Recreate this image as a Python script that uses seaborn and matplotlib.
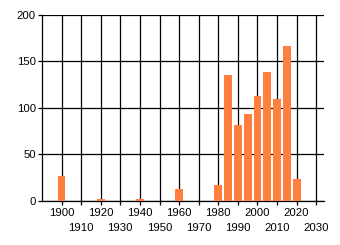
import matplotlib
matplotlib.use("Agg")
import matplotlib.pyplot as plt
import seaborn as sns
import pandas as pd

years = [1900, 1920, 1940, 1960, 1980, 1985, 1990, 1995, 2000, 2005, 2010, 2015, 2020]
counts = [27, 2, 2, 13, 17, 135, 82, 93, 113, 139, 110, 167, 24]
x_ticks_upper = list(range(1900, 2021, 20))
x_ticks_lower = list(range(1910, 2031, 20))
y_ticks = [0, 50, 100, 150, 200]

sns.set_style("white")
plt.rcParams['font.family'] = ['Liberation Sans', 'DejaVu Sans']

df = pd.DataFrame({"year": years, "count": counts})

fig = plt.figure(figsize=(3.4, 2.45), dpi=100)
ax = fig.add_axes([0.1235, 0.1796, 0.953 - 0.1235, 0.939 - 0.1796])

ax.set_axisbelow(True)
sns.barplot(data=df, x="year", y="count", native_scale=True, width=0.8,
            color="#FF7F3F", saturation=1, ax=ax, linewidth=0, zorder=3)

ax.set_xlim(1890, 2034)
ax.set_ylim(0, 200)
ax.set_xticks(x_ticks_upper)
ax.set_xticklabels([str(t) for t in x_ticks_upper])
ax.set_xticks(x_ticks_lower, minor=True)
ax.set_xticklabels([str(t) for t in x_ticks_lower], minor=True)
ax.set_yticks(y_ticks)
ax.grid(True, which="both", axis="x", color="black", linewidth=0.9, zorder=0)
ax.grid(True, which="major", axis="y", color="black", linewidth=0.9, zorder=0)
for s in ["top", "right"]:
    ax.spines[s].set_visible(False)
for s in ["left", "bottom"]:
    ax.spines[s].set_color("black")
    ax.spines[s].set_linewidth(0.9)
ax.tick_params(axis="both", which="both", length=3, width=0.9, color="black",
               labelsize=8.2, labelcolor="black", bottom=True, left=True)
ax.tick_params(axis="x", which="major", pad=2)
ax.tick_params(axis="x", which="minor", pad=12.5)
ax.tick_params(axis="y", pad=1.5)
ax.set_xlabel("")
ax.set_ylabel("")

fig.savefig("out.png", dpi=100)
